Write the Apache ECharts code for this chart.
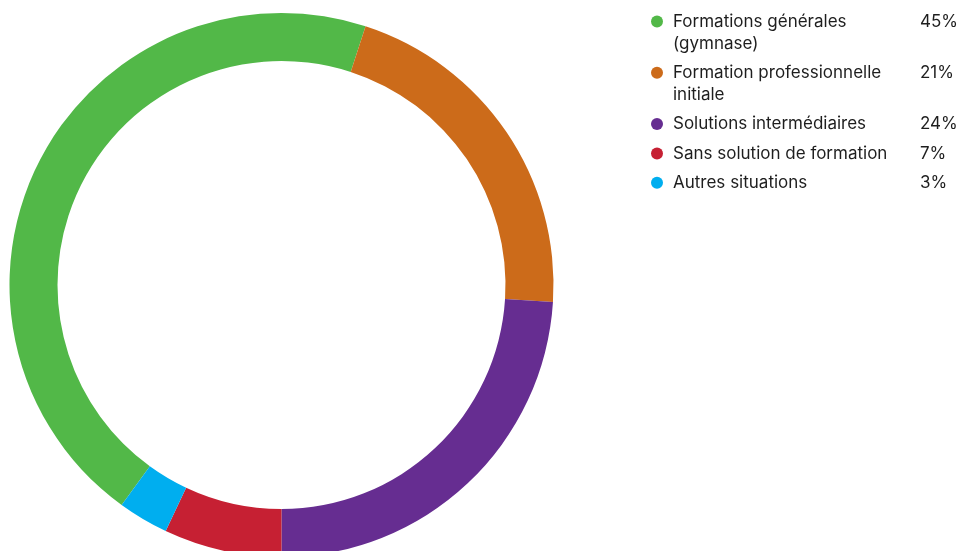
<!DOCTYPE html>
<html>
<head>
<meta charset="utf-8">
<script src="https://cdn.jsdelivr.net/npm/echarts@6/dist/echarts.min.js"></script>
<style>
html,body{margin:0;padding:0;background:#fff;}
#c{width:958px;height:551px;}
</style>
</head>
<body>
<div id="c"></div>
<script>
const categories = ['Formations générales (gymnase)', 'Formation professionnelle initiale', 'Solutions intermédiaires', 'Sans solution de formation', 'Autres situations'];
const values = [45, 21, 24, 7, 3];
const legendLines = [
  ['Formations générales', '(gymnase)'],
  ['Formation professionnelle', 'initiale'],
  ['Solutions intermédiaires'],
  ['Sans solution de formation'],
  ['Autres situations']
];
const colors = ['#52b848', '#cc6b1a', '#662d91', '#c62033', '#00aeef'];

const FONT = 'Inter';
const FS = 17;
const rich = {
  g: { width: 10 },
  n: { width: 247, lineHeight: 22, fontSize: FS, color: '#1e1e1e', fontFamily: FONT },
  v: { lineHeight: 22, fontSize: FS, color: '#1e1e1e', fontFamily: FONT },
  sp: { width: 22, lineHeight: 22 }
};
colors.forEach((c, i) => {
  rich['d' + i] = { width: 12, height: 12, borderRadius: 6, backgroundColor: c, lineHeight: 22 };
});

const chart = echarts.init(document.getElementById('c'), null, { renderer: 'canvas' });
chart.setOption({
  animation: false,
  color: colors,
  legend: {
    orient: 'vertical',
    left: 651,
    top: 10.5,
    padding: 0,
    itemGap: 7.3,
    itemWidth: 0,
    itemHeight: 12,
    icon: 'circle',
    selectedMode: false,
    textStyle: { fontSize: FS, fontFamily: FONT, color: '#1e1e1e', lineHeight: 22, padding: [0,0,0,-5], rich: rich },
    formatter: function (name) {
      const i = categories.indexOf(name);
      const lines = legendLines[i];
      let s = '{d' + i + '| }{g| }{n|' + lines[0] + '}{v|' + values[i] + '%}';
      for (let k = 1; k < lines.length; k++) s += '\n{sp| }{n|' + lines[k] + '}';
      return s;
    },
    data: categories
  },
  series: [{
    type: 'pie',
    center: [281.5, 285],
    radius: [224, 272],
    startAngle: 234,
    clockwise: true,
    label: { show: false },
    labelLine: { show: false },
    emphasis: { disabled: true },
    silent: true,
    itemStyle: { borderWidth: 0 },
    data: categories.map((n, i) => ({ name: n, value: values[i] }))
  }]
});
</script>
</body>
</html>
